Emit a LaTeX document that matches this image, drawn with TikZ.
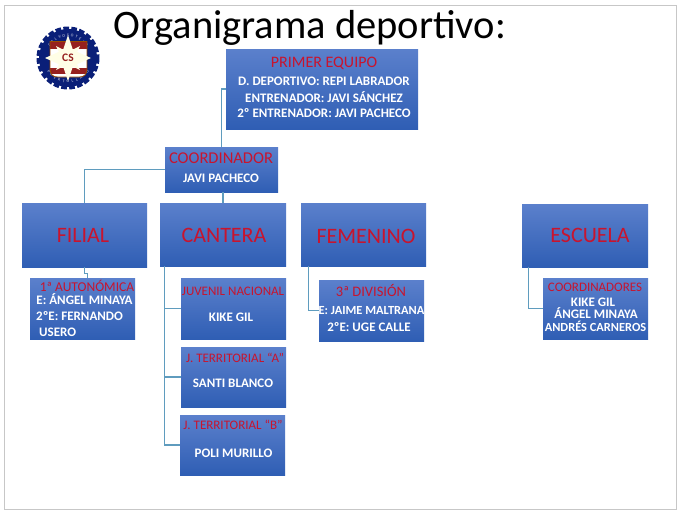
\documentclass[tikz,border=0pt]{standalone}
\usepackage{fontspec}
\setmainfont{Carlito}
\definecolor{boxtop}{HTML}{5B80CC}
\definecolor{boxbot}{HTML}{2F5EB4}
\definecolor{redtxt}{HTML}{C8142E}
\definecolor{linkc}{HTML}{5F9CBE}
\definecolor{navy}{HTML}{0A1F78}
\definecolor{shieldred}{HTML}{96201F}
\newcommand{\fs}[1]{\fontsize{#1}{#1}\selectfont}
\tikzset{
 orgbox/.style={shade,top color=boxtop,bottom color=boxbot,draw=none,inner sep=0pt},
 link/.style={draw=linkc,line width=1.2pt},
 head/.style={inner sep=0pt,anchor=base,text=redtxt,font=\fs{#1},yshift={-0.32*#1 pt}},
 body/.style={inner sep=0pt,anchor=base,text=white,font=\bfseries\fs{13},yshift=-4.2pt},
 bodyn/.style={body,font=\bfseries\fs{12.4}},
 bodyl/.style={body,anchor=base west},
}
\begin{document}
\begin{tikzpicture}[x=1pt,y=-1pt]
\useasboundingbox (0,0) rectangle (680,515);
\fill[white] (0,0) rectangle (680,515);
\draw[draw=black!22,line width=1pt] (4.5,5.5) rectangle (676,509);
\node[anchor=base,inner sep=0pt,font=\fs{40.5}] (title) at (310,38) {Organigrama deportivo:};
% logo
\draw[navy,line width=4pt,dash pattern=on 5.6pt off 2.3pt] (68,58) circle (29.5);
\fill[navy] (68,58) circle (29);
\foreach \c [count=\i] in {C,A,L,V,O,S,O,T,E,L,O}
  {\pgfmathsetmacro\a{90+(6-\i)*11}
   \node[font=\fs{4},text=white!85!navy,inner sep=0pt,rotate=\a-90] (lt\i) at ({68+22.5*cos(\a)},{58-22.5*sin(\a)}) {\c};}
\foreach \c [count=\i] in {P,U,E,R,T,O,L,L,A,N,O}
  {\pgfmathsetmacro\a{270+(\i-6)*11}
   \node[font=\fs{4},text=white!85!navy,inner sep=0pt,rotate=\a+90] (lb\i) at ({68+23.5*cos(\a)},{58-23.5*sin(\a)}) {\c};}
\begin{scope}
\path[clip] (50,41.5) -- (87,41.5) -- (87,68) .. controls (87,75) and (84,77) .. (79,77) -- (58,77) .. controls (53,77) and (50,75) .. (50,68) -- cycle;
\fill[white] (50,41) rectangle (87,78);
\fill[shieldred] (50,41) rectangle (87,49);
\fill[shieldred] (50,68) rectangle (87,74);
\end{scope}
\draw[draw=black!40!orange,line width=.8pt] (50,41.5) -- (87,41.5) -- (87,68) .. controls (87,75) and (84,77) .. (79,77) -- (58,77) .. controls (53,77) and (50,75) .. (50,68) -- cycle;
\fill[white!90!yellow] (68,35) -- (73,50) -- (91,58) -- (73,66) -- (68,81) -- (63,66) -- (45,58) -- (63,50) -- cycle;
\fill[white!90!yellow] (56,46) -- (68,52) -- (80,46) -- (74,58) -- (80,70) -- (68,64) -- (56,70) -- (62,58) -- cycle;
\node[inner sep=0pt,font=\bfseries\fs{11.5},text=shieldred] (cs) at (68,58) {CS};
% boxes
\node[orgbox,minimum width=192pt,minimum height=80pt] (primer) at (322,89) {};
\node[orgbox,minimum width=113pt,minimum height=45pt] (coord) at (221.5,169.5) {};
\node[orgbox,minimum width=125pt,minimum height=64pt] (filial) at (84.5,235) {};
\node[orgbox,minimum width=126pt,minimum height=63pt] (cantera) at (223,234.5) {};
\node[orgbox,minimum width=125pt,minimum height=63pt] (femenino) at (363.5,234.5) {};
\node[orgbox,minimum width=126pt,minimum height=63pt] (escuela) at (585,235.5) {};
\node[orgbox,minimum width=105pt,minimum height=61pt] (auton) at (82.5,308.5) {};
\node[orgbox,minimum width=105pt,minimum height=61pt] (juvenil) at (233.5,308.5) {};
\node[orgbox,minimum width=105pt,minimum height=60pt] (jta) at (233.5,377) {};
\node[orgbox,minimum width=105pt,minimum height=60pt] (jtb) at (232.5,445) {};
\node[orgbox,minimum width=105pt,minimum height=61pt] (tercera) at (371.5,310.5) {};
\node[orgbox,minimum width=105pt,minimum height=61pt] (coords) at (595.5,308.5) {};
% connectors
\draw[link] (primer.west) -| (coord.north);
\draw[link] (coord.west) -| (filial.north);
\draw[link] (coord.south -| cantera.north) -- (cantera.north);
\draw[link] (filial.south) -- ++(0,6) -- ++(3,0) -- ++(0,5);
\draw[link] ([xshift=5pt]cantera.south west) |- (juvenil.west);
\draw[link] ([xshift=5pt]cantera.south west) |- (jta.west);
\draw[link] ([xshift=5pt]cantera.south west) |- (jtb.west);
\draw[link] ([xshift=8pt]femenino.south west) |- (tercera.west);
\draw[link] ([xshift=7pt]escuela.south west) |- (coords.west);
% texts
\node[head=16] (t1) at (324,62) {PRIMER EQUIPO};
\node[body] (t2) at (324,81) {D. DEPORTIVO: REPI LABRADOR};
\node[body] (t3) at (324,98) {ENTRENADOR: JAVI SÁNCHEZ};
\node[body] (t4) at (324,113) {2º ENTRENADOR: JAVI PACHECO};
\node[head=16.5] (t5) at (221,158) {COORDINADOR};
\node[body] (t6) at (221,178) {JAVI PACHECO};
\node[head=22] (t7) at (83,235) {FILIAL};
\node[head=22] (t8) at (224,235) {CANTERA};
\node[head=22] (t9) at (366,236) {FEMENINO};
\node[head=22] (t10) at (590,235) {ESCUELA};
\node[head=13.5] (t11) at (87,287.5) {1ª AUTONÓMICA};
\node[body] (t12) at (84.5,300) {E: ÁNGEL MINAYA};
\node[bodyl] (t13) at (36,316) {2ºE: FERNANDO};
\node[bodyl] (t14) at (39,332) {USERO};
\node[head=13] (t15) at (233,291) {JUVENIL NACIONAL};
\node[body] (t16) at (231,317) {KIKE GIL};
\node[head=13] (t17) at (235,358) {J. TERRITORIAL “A”};
\node[body] (t18) at (233,383) {SANTI BLANCO};
\node[head=13] (t19) at (233,425) {J. TERRITORIAL “B”};
\node[body] (t20) at (233.5,453) {POLI MURILLO};
\node[head=14.5] (t21) at (371,292) {3ª DIVISIÓN};
\node[bodyn] (t22) at (371.5,310) {E: JAIME MALTRANA};
\node[body] (t23) at (369,327) {2ºE: UGE CALLE};
\node[head=13] (t24) at (595,287) {COORDINADORES};
\node[body] (t25) at (593,302) {KIKE GIL};
\node[body] (t26) at (596,314) {ÁNGEL MINAYA};
\node[bodyn] (t27) at (595.5,327) {ANDRÉS CARNEROS};
\end{tikzpicture}
\end{document}
